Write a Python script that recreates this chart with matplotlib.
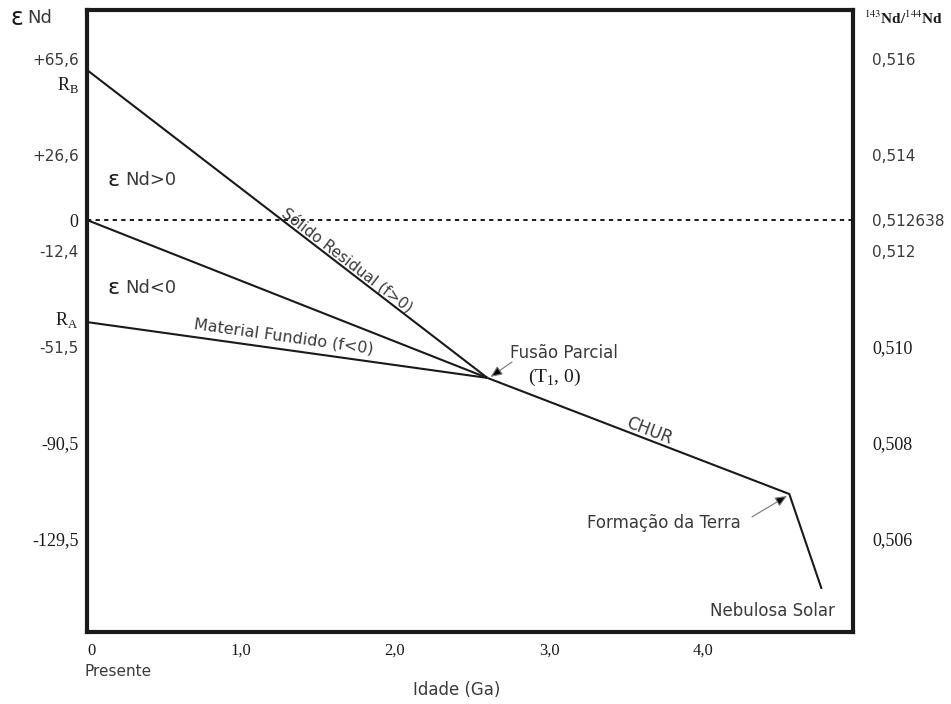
import numpy as np
import matplotlib
matplotlib.use("Agg")
import matplotlib.pyplot as plt

SANS  = "DejaVu Sans"
SERIF = "Liberation Serif"
GREY  = "#3a3a3a"
INK   = "#1a1a1a"

# ── data (age in Ga, εNd) ─────────────────────────────────────────────────────
AGE_T1, EPS_T1       = 2.60, -64.2     # fusão parcial (T1)
AGE_EARTH, EPS_EARTH = 4.56, -111.4    # formação da Terra
AGE_NEB, EPS_NEB     = 4.77, -150.0    # nebulosa solar
EPS_RB, EPS_RA       = 61.0, -41.5

rb_age,   rb_eps   = [0.0, AGE_T1], [EPS_RB, EPS_T1]
zero_age, zero_eps = [0.0, AGE_T1], [0.0, EPS_T1]
ra_age,   ra_eps   = [0.0, AGE_T1], [EPS_RA, EPS_T1]
chur_age = [AGE_T1, AGE_EARTH, AGE_NEB]
chur_eps = [EPS_T1, EPS_EARTH, EPS_NEB]

X_TICKS  = [0, 1, 2, 3, 4]
X_LABELS = ["0", "1,0", "2,0", "3,0", "4,0"]

EPS_TICKS  = [65.6, 26.6, 0.0, -12.4, -51.5, -90.5, -129.5]
EPS_LABELS = ["+65,6", "+26,6", "0", "-12,4", "-51,5", "-90,5", "-129,5"]
EPS_SERIF  = [False, False, True, False, False, True, True]

RATIO_CHUR   = 0.512638
RATIO_TICKS  = [0.516, 0.514, 0.512638, 0.512, 0.510, 0.508, 0.506]
RATIO_LABELS = ["0,516", "0,514", "0,512638", "0,512", "0,510", "0,508", "0,506"]
RATIO_SERIF  = [False, False, False, False, True, True, True]

XLIM = (0.0, 4.974)
YLIM = (-167.5, 85.4)

# ── figure ────────────────────────────────────────────────────────────────────
fig = plt.figure(figsize=(9.51, 7.04), dpi=100)
ax = fig.add_axes([0.0915, 0.1023, 0.8055, 0.8835])
ax.set_xlim(*XLIM)
ax.set_ylim(*YLIM)

for sp in ax.spines.values():
    sp.set_linewidth(3)
    sp.set_color(INK)

ax.axhline(0, color=INK, lw=1.4, ls=(0, (2.2, 2.2)))
for xs, ys in [(rb_age, rb_eps), (zero_age, zero_eps), (ra_age, ra_eps), (chur_age, chur_eps)]:
    ax.plot(xs, ys, color=INK, lw=1.5, solid_capstyle="butt")

# ticks: x
ax.set_xticks(X_TICKS)
ax.set_xticklabels(X_LABELS, fontfamily=SERIF, fontsize=12, color=INK)
ax.get_xticklabels()[0].set_horizontalalignment("left")
ax.tick_params(axis="x", length=0, pad=8)

# ticks: left εNd (+ R_B / R_A marks)
ax.set_yticks(EPS_TICKS + [EPS_RB - 5, EPS_RA + 2])
ax.set_yticklabels(EPS_LABELS + [r"R$_\mathregular{B}$", r"R$_\mathregular{A}$"])
ax.tick_params(axis="y", length=0, pad=6)
for lab, serif in zip(ax.get_yticklabels(), EPS_SERIF + [True, True]):
    lab.set_fontfamily(SERIF if serif else SANS)
    lab.set_fontsize(13 if serif else 11)
    lab.set_color(INK if serif else GREY)

# ticks: right 143Nd/144Nd
ax2 = ax.twinx()
ax2.set_ylim(*YLIM)
ax2.set_yticks([(r / RATIO_CHUR - 1) * 1e4 for r in RATIO_TICKS])
ax2.set_yticklabels(RATIO_LABELS)
ax2.tick_params(axis="y", length=0, pad=14)
for sp in ax2.spines.values():
    sp.set_visible(False)
for lab, serif in zip(ax2.get_yticklabels(), RATIO_SERIF):
    lab.set_fontfamily(SERIF if serif else SANS)
    lab.set_fontsize(13 if serif else 11)
    lab.set_color(INK if serif else GREY)


def line_angle(xs, ys):
    p = ax.transData.transform(np.column_stack([xs, ys]))
    return np.degrees(np.arctan2(p[1, 1] - p[0, 1], p[1, 0] - p[0, 0]))


def on_line(xs, ys, x):
    return x, np.interp(x, xs, ys)


# line labels
ang = line_angle(rb_age, rb_eps)
x, y = on_line(rb_age, rb_eps, 1.66)
ax.annotate("Sólido Residual (f>0)", (x, y), xytext=(0, 0), textcoords="offset points",
            rotation=ang, rotation_mode="anchor", ha="center", va="bottom",
            fontfamily=SANS, fontsize=11, color=GREY)

ang = line_angle(ra_age, ra_eps)
x, y = on_line(ra_age, ra_eps, 1.27)
ax.annotate("Material Fundido (f<0)", (x, y), xytext=(0, 4), textcoords="offset points",
            rotation=ang, rotation_mode="anchor", ha="center", va="bottom",
            fontfamily=SANS, fontsize=11.5, color=GREY)

ang = line_angle(chur_age[:2], chur_eps[:2])
x, y = on_line(chur_age[:2], chur_eps[:2], 3.63)
ax.annotate("CHUR", (x, y), xytext=(0, 0), textcoords="offset points",
            rotation=ang, rotation_mode="anchor", ha="center", va="bottom",
            fontfamily=SANS, fontsize=12, color=GREY)

# region labels
ax.text(0.136, 16.3, "ε", fontfamily=SANS, fontsize=16, color=INK, va="center")
ax.text(0.25, 16.3, "Nd>0", fontfamily=SANS, fontsize=13, color=GREY, va="center")
ax.text(0.136, -27.6, "ε", fontfamily=SANS, fontsize=16, color=INK, va="center")
ax.text(0.25, -27.6, "Nd<0", fontfamily=SANS, fontsize=13, color=GREY, va="center")

arrow = dict(arrowstyle="-|>,head_length=0.7,head_width=0.3", fc="black", ec="#777777",
             lw=0.8, shrinkA=0, shrinkB=0)
ax.annotate("", xy=(AGE_T1 + 0.02, EPS_T1 + 0.4), xytext=(2.76, -57.7), arrowprops=arrow)
ax.text(2.747, -54.1, "Fusão Parcial", fontfamily=SANS, fontsize=12, color=GREY, va="center")
ax.text(2.864, -63.8, r"(T$_\mathregular{1}$, 0)", fontfamily=SERIF, fontsize=14,
        color=INK, va="center")

ax.annotate("", xy=(AGE_EARTH - 0.015, EPS_EARTH - 0.8), xytext=(4.318, -120.7), arrowprops=arrow)
ax.text(3.247, -123.2, "Formação da Terra", fontfamily=SANS, fontsize=12, color=GREY, va="center")
ax.text(4.045, -158.9, "Nebulosa Solar", fontfamily=SANS, fontsize=12, color=GREY, va="center")

# outside texts
W, H = 951, 704
fig.text(10 / W, 1 - 18 / H, "ε", fontfamily=SANS, fontsize=17, color=INK, va="center")
fig.text(27 / W, 1 - 18 / H, "Nd", fontfamily=SANS, fontsize=13, color=GREY, va="center")
fig.text(864 / W, 1 - 18 / H, r"$^{143}$Nd/$^{144}$Nd", fontfamily=SERIF, fontsize=11,
         fontweight="bold", color=INK, va="center", math_fontfamily="stix")
fig.text(85 / W, 1 - 672 / H, "Presente", fontfamily=SANS, fontsize=11, color=GREY, va="center")
fig.text(457 / W, 1 - 690 / H, "Idade (Ga)", fontfamily=SANS, fontsize=12, color=GREY,
         ha="center", va="center")

fig.savefig("out.png", dpi=100, facecolor="white")
